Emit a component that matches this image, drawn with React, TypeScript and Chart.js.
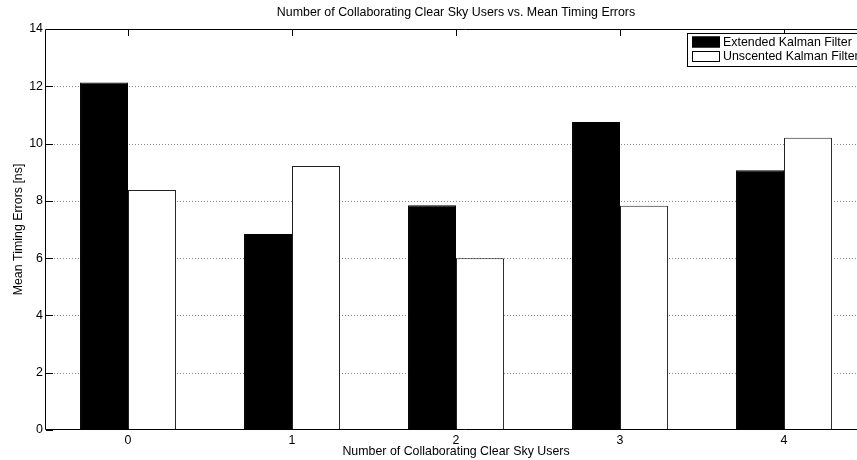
import React, { useEffect, useRef } from "react";
import { Chart, registerables } from "chart.js";

Chart.register(...registerables);

const categories = ["0", "1", "2", "3", "4"];
const ekfValues = [12.13, 6.84, 7.85, 10.75, 9.07];
const ukfValues = [8.38, 9.22, 6.0, 7.83, 10.2];
const yTicks = [0, 2, 4, 6, 8, 10, 12, 14];
const seriesNames = ["Extended Kalman Filter", "Unscented Kalman Filter"];
const chartTitle = "Number of Collaborating Clear Sky Users vs. Mean Timing Errors";
const xTitle = "Number of Collaborating Clear Sky Users";
const yTitle = "Mean Timing Errors [ns]";

const FONT = "'Liberation Sans', Arial, Helvetica, sans-serif";
const FS = 12.4;

const framePlugin = {
  id: "matlabFrame",
  beforeDatasetsDraw(chart: any) {
    const { ctx, chartArea, scales } = chart;
    const { left, right, top, bottom } = chartArea;
    const y = scales.y;
    const x = scales.x;
    ctx.save();
    ctx.strokeStyle = "#8a8a8a";
    ctx.lineWidth = 1;
    ctx.setLineDash([1, 2]);
    yTicks.forEach((v) => {
      if (v === yTicks[0] || v === yTicks[yTicks.length - 1]) return;
      const py = Math.round(y.getPixelForValue(v)) + 0.5;
      ctx.beginPath();
      ctx.moveTo(left + 8, py);
      ctx.lineTo(right, py);
      ctx.stroke();
    });
    ctx.setLineDash([]);
    ctx.strokeStyle = "#000";
    const tl = 7;
    yTicks.forEach((v) => {
      const py = Math.round(y.getPixelForValue(v)) + 0.5;
      ctx.beginPath();
      ctx.moveTo(left, py);
      ctx.lineTo(left + tl, py);
      ctx.stroke();
    });
    categories.forEach((_, i) => {
      const px = Math.round(x.getPixelForValue(i)) + 0.5;
      ctx.beginPath();
      ctx.moveTo(px, top);
      ctx.lineTo(px, top + tl);
      ctx.moveTo(px, bottom);
      ctx.lineTo(px, bottom - tl);
      ctx.stroke();
    });
    ctx.restore();
  },
  afterDatasetsDraw(chart: any) {
    const { ctx, chartArea } = chart;
    const { left, right, top, bottom } = chartArea;
    ctx.save();
    ctx.strokeStyle = "#000";
    ctx.lineWidth = 1;
    ctx.beginPath();
    ctx.moveTo(right + 20, top + 0.5);
    ctx.lineTo(left - 0.5, top + 0.5);
    ctx.lineTo(left - 0.5, bottom - 0.5);
    ctx.lineTo(right + 20, bottom - 0.5);
    ctx.stroke();
    // title
    ctx.fillStyle = "#000";
    ctx.font = `${FS}px ${FONT}`;
    ctx.textAlign = "center";
    ctx.textBaseline = "middle";
    ctx.fillText(chartTitle, (left + right) / 2, 13);
    // legend
    const bx = 687;
    const by = 33;
    const bw = 174;
    const bh = 33;
    ctx.fillStyle = "#fff";
    ctx.fillRect(bx, by, bw, bh);
    ctx.strokeStyle = "#000";
    ctx.strokeRect(bx + 0.5, by + 0.5, bw, bh);
    const rows = [42.5, 57];
    const fills = ["#000", "#fff"];
    rows.forEach((ry, i) => {
      ctx.fillStyle = fills[i];
      ctx.fillRect(692, ry - 6, 28, 11);
      ctx.strokeStyle = "#000";
      ctx.strokeRect(692.5, ry - 5.5, 27, 10);
      ctx.fillStyle = "#000";
      ctx.textAlign = "left";
      ctx.textBaseline = "middle";
      ctx.fillText(seriesNames[i], 723, ry);
    });
    ctx.restore();
  },
};

export default function App() {
  const ref = useRef<HTMLCanvasElement | null>(null);
  useEffect(() => {
    if (!ref.current) return;
    const chart = new Chart(ref.current, {
      type: "bar",
      data: {
        labels: categories,
        datasets: [
          {
            label: seriesNames[0],
            data: ekfValues,
            backgroundColor: "#000",
            borderColor: "#000",
            borderWidth: 1,
            categoryPercentage: 0.585,
            barPercentage: 1,
          },
          {
            label: seriesNames[1],
            data: ukfValues,
            backgroundColor: "#fff",
            borderColor: "#222",
            borderWidth: 1,
            categoryPercentage: 0.585,
            barPercentage: 1,
          },
        ],
      },
      options: {
        responsive: false,
        animation: false,
        devicePixelRatio: 1,
        layout: { padding: { top: 29, right: 34, left: 0, bottom: 0 } },
        plugins: {
          legend: { display: false },
          tooltip: { enabled: false },
          title: { display: false },
        },
        scales: {
          x: {
            type: "category",
            offset: true,
            grid: { display: false, drawTicks: false },
            border: { display: false },
            ticks: { color: "#000", font: { size: FS, family: FONT }, padding: 3, maxRotation: 0 },
            title: {
              display: true,
              text: xTitle,
              color: "#000",
              font: { size: FS, family: FONT },
              padding: { top: 0, bottom: 1 },
            },
            afterFit: (s: any) => {
              s.height = 30;
            },
          },
          y: {
            min: 0,
            max: 14,
            grid: { display: false, drawTicks: false },
            border: { display: false },
            ticks: {
              stepSize: 2,
              color: "#000",
              font: { size: FS, family: FONT },
              padding: 3,
            },
            title: {
              display: true,
              text: yTitle,
              color: "#000",
              font: { size: FS, family: FONT },
              padding: { top: 11, bottom: 0 },
            },
            afterFit: (s: any) => {
              s.width = 46;
            },
          },
        },
      },
      plugins: [framePlugin],
    });
    return () => chart.destroy();
  }, []);
  return (
    <div
      style={{
        position: "fixed",
        left: 0,
        top: 0,
        width: 857,
        height: 460,
        overflow: "hidden",
        background: "#fff",
      }}
    >
      <canvas ref={ref} width={900} height={460} style={{ display: "block", width: 900, height: 460 }} />
    </div>
  );
}
